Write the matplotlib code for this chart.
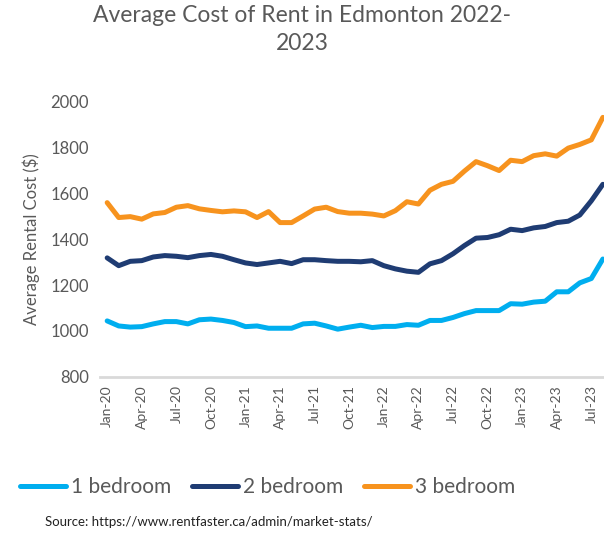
import matplotlib.pyplot as plt
import numpy as np

plt.rcParams['font.family'] = ['Lato', 'DejaVu Sans']

# monthly average rent, Jan-20 .. Aug-23
one_bed = [1044, 1022, 1017, 1019, 1031, 1041, 1041, 1031, 1049, 1052,
           1046, 1037, 1019, 1022, 1012, 1012, 1012, 1031, 1034, 1022,
           1008, 1017, 1025, 1015, 1020, 1020, 1028, 1025, 1046, 1046,
           1059, 1076, 1089, 1089, 1089, 1119, 1117, 1126, 1130, 1171,
           1171, 1210, 1229, 1314]
two_bed = [1319, 1285, 1304, 1307, 1323, 1329, 1326, 1320, 1329, 1334,
           1326, 1311, 1297, 1290, 1297, 1304, 1294, 1311, 1311, 1307,
           1304, 1304, 1302, 1307, 1285, 1271, 1261, 1256, 1293, 1307,
           1337, 1373, 1405, 1408, 1420, 1444, 1438, 1450, 1456, 1473,
           1479, 1506, 1568, 1640]
three_bed = [1560, 1495, 1499, 1488, 1511, 1517, 1540, 1547, 1533, 1526,
             1520, 1524, 1520, 1495, 1521, 1473, 1473, 1502, 1532, 1540,
             1521, 1514, 1514, 1510, 1502, 1525, 1564, 1554, 1614, 1640,
             1653, 1698, 1739, 1721, 1700, 1745, 1739, 1765, 1773, 1763,
             1798, 1814, 1834, 1932]
tick_labels = ['Jan-20', 'Apr-20', 'Jul-20', 'Oct-20', 'Jan-21', 'Apr-21',
               'Jul-21', 'Oct-21', 'Jan-22', 'Apr-22', 'Jul-22', 'Oct-22',
               'Jan-23', 'Apr-23', 'Jul-23']
series_names = ['1 bedroom', '2 bedroom', '3 bedroom']
colors = ['#00AEEF', '#1F3C73', '#F7931E']

text_color = '#595959'

fig = plt.figure(figsize=(6.04, 5.33), dpi=100)
ax = fig.add_axes([0.166, 0.293, 0.834, 0.516])

x = np.arange(len(one_bed))
for vals, name, c in zip([one_bed, two_bed, three_bed], series_names, colors):
    ax.plot(x, vals, color=c, linewidth=3.6, label=name,
            solid_capstyle='round', solid_joinstyle='round')

ax.set_xlim(-0.6, 43.1)
ax.set_ylim(800, 2000)
ax.set_yticks(range(800, 2001, 200))
ax.set_xticks(np.arange(0, len(one_bed), 3))
ax.set_xticklabels(tick_labels, rotation=90)
ax.tick_params(axis='both', length=0, colors=text_color)
ax.tick_params(axis='y', labelsize=12, pad=8)
ax.tick_params(axis='x', labelsize=10, pad=6)

for s in ['top', 'right', 'left']:
    ax.spines[s].set_visible(False)
ax.spines['bottom'].set_color('#D9D9D9')
ax.spines['bottom'].set_linewidth(2)

ax.set_ylabel('Average Rental Cost ($)', fontsize=12, color=text_color, labelpad=8)

fig.text(0.5, 0.99, 'Average Cost of Rent in Edmonton 2022-\n2023',
         ha='center', va='top', fontsize=16.5, color=text_color,
         linespacing=1.4)

handles, labels = ax.get_legend_handles_labels()
fig.legend(handles, labels, loc='center', bbox_to_anchor=(0.443, 0.086),
           ncol=3, frameon=False, fontsize=15, handlelength=2.2,
           handletextpad=0.25, columnspacing=1.0, labelcolor=text_color)

fig.text(0.075, 0.02, 'Source: https://www.rentfaster.ca/admin/market-stats/',
         fontsize=9.5, color='#222222', va='center')

plt.savefig('out.png', dpi=100)
